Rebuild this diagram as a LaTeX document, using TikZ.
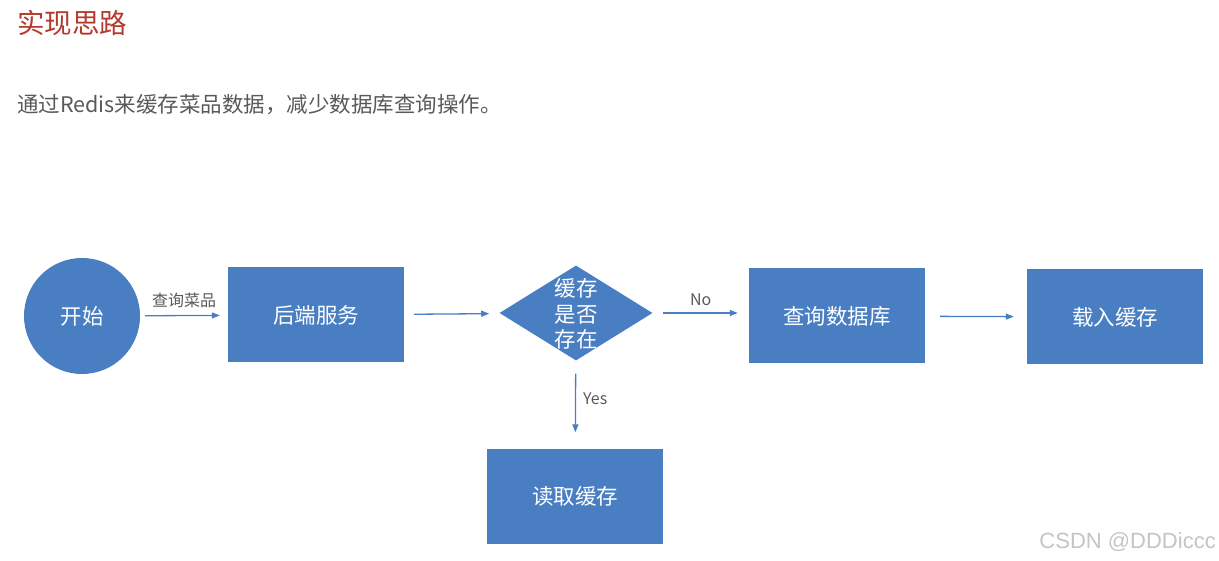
\documentclass[tikz,border=0pt]{standalone}
\usepackage{fontspec}
\usepackage{tikz}
\usetikzlibrary{arrows.meta,positioning,shapes.geometric}
\newfontfamily\cjk{Noto Sans CJK SC}
\newfontfamily\marque{Liberation Sans}
\definecolor{bleu}{HTML}{4A7EC2}
\definecolor{rouge}{HTML}{B5382C}
\definecolor{gris}{HTML}{595959}
\definecolor{grisclair}{HTML}{C4C4C4}
\tikzset{
  boite/.style={fill=bleu,draw=none,text=white,align=center,inner sep=0pt,
                minimum width=176pt,minimum height=95pt,
                font=\cjk\fontsize{21.5}{25.5}\selectfont},
  fleche/.style={-{Triangle[length=8pt,width=6pt]},line width=1.3pt,color=bleu,
                 shorten <=10pt,shorten >=11pt},
  etiquette/.style={text=gris,font=\cjk\fontsize{16}{18}\selectfont,inner sep=2pt},
}

\begin{document}
\begin{tikzpicture}[x=1pt,y=-1pt]
  \useasboundingbox (0,0) rectangle (1219,561);
  \node[anchor=west,text=rouge,font=\cjk\fontsize{27.5}{30}\selectfont,inner sep=0pt] (titre) at (17,23) {实现思路};
  \node[anchor=west,text=gris,font=\cjk\fontsize{21.5}{25}\selectfont,inner sep=0pt] (intro) at (17,105) {通过Redis来缓存菜品数据，减少数据库查询操作。};
  \node[boite,circle,minimum size=116pt] (debut) at (82,316) {开始};
  \node[boite] (serveur) at (316,315) {后端服务};
  \node[boite,diamond,minimum width=153pt,minimum height=95pt] (test) at (576,313) {};
  \node[text=white,align=center,inner sep=0pt,font=\cjk\fontsize{21.5}{25.5}\selectfont] (testtxt) at (576,314) {缓存\\是否\\存在};
  \node[boite] (bdd) at (837,316) {查询数据库};
  \node[boite] (charge) at (1115,317) {载入缓存};
  \node[boite] (lecture) at (575,496) {读取缓存};
  \draw[fleche,shorten <=5pt,shorten >=8pt] (debut) -- node[etiquette,above=5pt] {查询菜品} (serveur);
  \draw[fleche] (serveur) -- (test);
  \draw[fleche] (test) -- node[etiquette,above=5pt] {No} (test -| bdd.west);
  \draw[fleche,shorten <=15pt,shorten >=13pt] (bdd) -- (charge);
  \draw[fleche,shorten <=13pt,shorten >=16pt] (test) -- node[etiquette,right=5pt,pos=0.43] {Yes} (lecture);
  \node[anchor=east,text=grisclair,font=\marque\fontsize{22}{24}\selectfont,inner sep=0pt] (filigrane) at (1216,542) {CSDN @DDDiccc};
\end{tikzpicture}
\end{document}
